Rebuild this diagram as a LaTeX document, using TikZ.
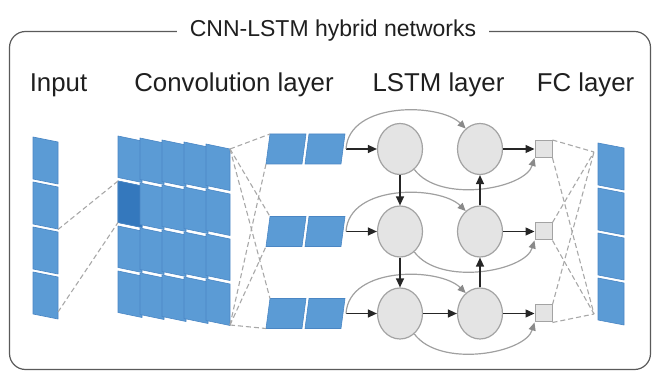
\documentclass[tikz,border=0pt]{standalone}
\usepackage{fontspec}
\setmainfont{Liberation Sans}
\usetikzlibrary{arrows.meta,shapes.geometric}
\definecolor{cellblue}{HTML}{5B9BD5}
\definecolor{celledge}{HTML}{4A86C4}
\definecolor{celldark}{HTML}{3478BD}
\definecolor{nodegray}{HTML}{E4E4E4}
\definecolor{nodeedge}{HTML}{A3A3A3}
\definecolor{dashgray}{HTML}{A8A8A8}
\definecolor{arcgray}{HTML}{A0A0A0}
\definecolor{headgray}{HTML}{8A8A8A}
\definecolor{framegray}{HTML}{5A5A5A}
\newcommand{\pcell}[6]{\path[#1] (#2,#3) -- ++(#4,#6) -- ++(0,#5) -- ++(-#4,-#6) -- cycle;}
\begin{document}
\begin{tikzpicture}[x=1pt,y=-1pt,
  cellshape/.style={fill=cellblue, draw=celledge, line width=0.6pt, line join=round},
  darkshape/.style={fill=celldark, draw=celledge, line width=0.6pt, line join=round},
  lstmcell/.style={ellipse, draw=nodeedge, fill=nodegray, line width=1.2pt, minimum width=45pt, minimum height=51pt, inner sep=0pt},
  fcunit/.style={rectangle, draw=nodeedge, fill=nodegray, line width=1pt, minimum size=17pt, inner sep=0pt},
  blackarrow/.style={draw=black!85, line width=1.3pt, -{Triangle[length=9pt,width=8pt]}},
  grayarc/.style={draw=arcgray, line width=1.2pt, -{Triangle[length=8pt,width=7pt,color=headgray]}},
  link/.style={draw=dashgray, line width=1.1pt, dash pattern=on 5pt off 3pt},
  lbl/.style={font=\fontsize{25.8}{30}\selectfont, text=black!88, inner sep=0pt, anchor=base},
]
\useasboundingbox (0,0) rectangle (654,371);
% frame and title
\draw[framegray, line width=1.2pt, rounded corners=16pt] (9.5,31.5) rectangle (650.5,369.5);
\node[font=\fontsize{23}{27}\selectfont, text=black!88, fill=white, inner xsep=13pt, inner ysep=2pt, anchor=base] (title) at (333,36.5) {CNN-LSTM hybrid networks};
% labels
\node[lbl] (lin) at (58.5,92) {Input};
\node[lbl] (lconv) at (234,92) {Convolution layer};
\node[lbl] (llstm) at (438.5,92) {LSTM layer};
\node[lbl] (lfc) at (585.5,92) {FC layer};
% input column
\foreach \i in {0,...,3} {\pcell{cellshape}{33}{137+45*\i}{25}{42}{5}}
% convolution layer
\foreach \i in {0,...,3} {\pcell{cellshape}{118}{136+45*\i}{24}{41.5}{5}}
\pcell{darkshape}{118}{181}{24}{41.5}{5}
\foreach \c in {1,...,4} {
  \foreach \i in {0,...,3} {\pcell{cellshape}{118+22*\c}{136+2*\c+45*\i}{24}{41.5}{5}}
}
% output column
\foreach \i in {0,...,3} {\pcell{cellshape}{598}{143+45*\i}{26}{42}{5}}
% coordinates for dashed links
\coordinate (in1) at (58,229.5);
\coordinate (in2) at (58,312);
\coordinate (k1) at (118,181);
\coordinate (k2) at (118,222.5);
\coordinate (ctr) at (230,149);
\coordinate (cbr) at (230,325);
\coordinate (oT) at (594,152);
\coordinate (oB) at (594,314);
\draw[link] (in1) -- (k1);
\draw[link] (in2) -- (k2);
% rows
\foreach \r/\yc in {1/149,2/231.5,3/313.5} {
  \path[cellshape] (266,\yc+15) -- (302,\yc+15) -- (306,\yc-15) -- (270,\yc-15) -- cycle;
  \path[cellshape] (305,\yc+15) -- (341,\yc+15) -- (345,\yc-15) -- (309,\yc-15) -- cycle;
  \coordinate (pt\r) at (270,\yc-15);
  \coordinate (pb\r) at (266,\yc+15);
  \coordinate (p\r) at (346,\yc);
  \draw[link] (ctr) -- (pt\r);
  \draw[link] (cbr) -- (pb\r);
  \node[lstmcell] (a\r) at (400,\yc) {};
  \node[lstmcell] (b\r) at (480,\yc) {};
  \node[fcunit] (s\r) at (543.5,\yc) {};
  \draw[link] (s\r.north east) -- (oT);
  \draw[link] (s\r.south east) -- (oB);
  \draw[blackarrow] (p\r) -- (a\r.west);
  \draw[blackarrow] (b\r.east) -- (s\r.west);
  \draw[grayarc] (p\r) .. controls (349,\yc-48) and (440,\yc-46) .. (b\r.125);
  \draw[grayarc] (a\r.-55) .. controls (440,\yc+55) and (525,\yc+40) .. (s\r.south west);
}
\draw[blackarrow] (a3.east) -- (b3.west);
\draw[blackarrow] (a1.south) -- (a2.north);
\draw[blackarrow] (a2.south) -- (a3.north);
\draw[blackarrow] (b3.north) -- (b2.south);
\draw[blackarrow] (b2.north) -- (b1.south);
\end{tikzpicture}
\end{document}
